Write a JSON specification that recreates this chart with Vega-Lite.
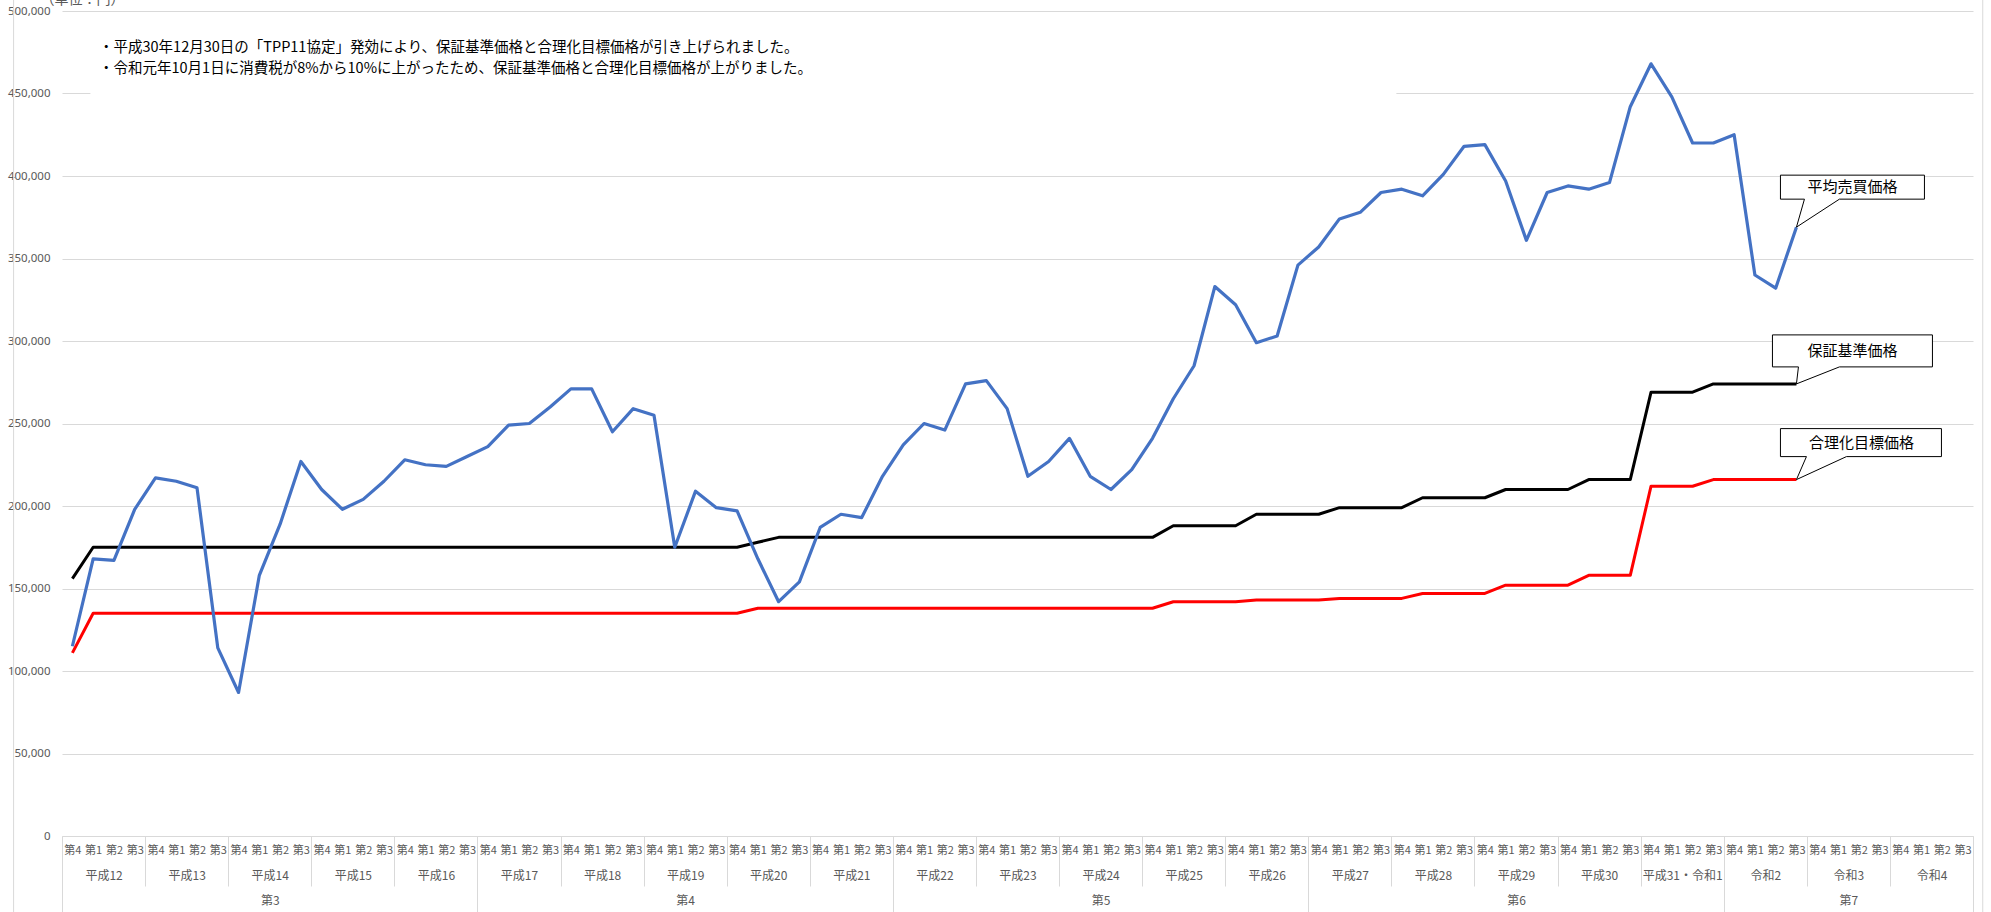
{
  "$schema": "https://vega.github.io/schema/vega-lite/v6.json",
  "width": 1911,
  "height": 825,
  "autosize": {"type": "none"},
  "padding": {"left": 62, "top": 11, "right": 18, "bottom": 76},
  "background": "white",
  "config": {"view": {"stroke": null}, "font": "Noto Sans CJK JP"},
  "datasets": {
    "prices": [
      {"n":0,"年度":"平成12","四半期":"第4","平均売買価格":115000,"保証基準価格":156000,"合理化目標価格":111000},
      {"n":1,"年度":"平成12","四半期":"第1","平均売買価格":168000,"保証基準価格":175000,"合理化目標価格":135000},
      {"n":2,"年度":"平成12","四半期":"第2","平均売買価格":167000,"保証基準価格":175000,"合理化目標価格":135000},
      {"n":3,"年度":"平成12","四半期":"第3","平均売買価格":198000,"保証基準価格":175000,"合理化目標価格":135000},
      {"n":4,"年度":"平成13","四半期":"第4","平均売買価格":217000,"保証基準価格":175000,"合理化目標価格":135000},
      {"n":5,"年度":"平成13","四半期":"第1","平均売買価格":215000,"保証基準価格":175000,"合理化目標価格":135000},
      {"n":6,"年度":"平成13","四半期":"第2","平均売買価格":211000,"保証基準価格":175000,"合理化目標価格":135000},
      {"n":7,"年度":"平成13","四半期":"第3","平均売買価格":114000,"保証基準価格":175000,"合理化目標価格":135000},
      {"n":8,"年度":"平成14","四半期":"第4","平均売買価格":87000,"保証基準価格":175000,"合理化目標価格":135000},
      {"n":9,"年度":"平成14","四半期":"第1","平均売買価格":158000,"保証基準価格":175000,"合理化目標価格":135000},
      {"n":10,"年度":"平成14","四半期":"第2","平均売買価格":189000,"保証基準価格":175000,"合理化目標価格":135000},
      {"n":11,"年度":"平成14","四半期":"第3","平均売買価格":227000,"保証基準価格":175000,"合理化目標価格":135000},
      {"n":12,"年度":"平成15","四半期":"第4","平均売買価格":210000,"保証基準価格":175000,"合理化目標価格":135000},
      {"n":13,"年度":"平成15","四半期":"第1","平均売買価格":198000,"保証基準価格":175000,"合理化目標価格":135000},
      {"n":14,"年度":"平成15","四半期":"第2","平均売買価格":204000,"保証基準価格":175000,"合理化目標価格":135000},
      {"n":15,"年度":"平成15","四半期":"第3","平均売買価格":215000,"保証基準価格":175000,"合理化目標価格":135000},
      {"n":16,"年度":"平成16","四半期":"第4","平均売買価格":228000,"保証基準価格":175000,"合理化目標価格":135000},
      {"n":17,"年度":"平成16","四半期":"第1","平均売買価格":225000,"保証基準価格":175000,"合理化目標価格":135000},
      {"n":18,"年度":"平成16","四半期":"第2","平均売買価格":224000,"保証基準価格":175000,"合理化目標価格":135000},
      {"n":19,"年度":"平成16","四半期":"第3","平均売買価格":230000,"保証基準価格":175000,"合理化目標価格":135000},
      {"n":20,"年度":"平成17","四半期":"第4","平均売買価格":236000,"保証基準価格":175000,"合理化目標価格":135000},
      {"n":21,"年度":"平成17","四半期":"第1","平均売買価格":249000,"保証基準価格":175000,"合理化目標価格":135000},
      {"n":22,"年度":"平成17","四半期":"第2","平均売買価格":250000,"保証基準価格":175000,"合理化目標価格":135000},
      {"n":23,"年度":"平成17","四半期":"第3","平均売買価格":260000,"保証基準価格":175000,"合理化目標価格":135000},
      {"n":24,"年度":"平成18","四半期":"第4","平均売買価格":271000,"保証基準価格":175000,"合理化目標価格":135000},
      {"n":25,"年度":"平成18","四半期":"第1","平均売買価格":271000,"保証基準価格":175000,"合理化目標価格":135000},
      {"n":26,"年度":"平成18","四半期":"第2","平均売買価格":245000,"保証基準価格":175000,"合理化目標価格":135000},
      {"n":27,"年度":"平成18","四半期":"第3","平均売買価格":259000,"保証基準価格":175000,"合理化目標価格":135000},
      {"n":28,"年度":"平成19","四半期":"第4","平均売買価格":255000,"保証基準価格":175000,"合理化目標価格":135000},
      {"n":29,"年度":"平成19","四半期":"第1","平均売買価格":175000,"保証基準価格":175000,"合理化目標価格":135000},
      {"n":30,"年度":"平成19","四半期":"第2","平均売買価格":209000,"保証基準価格":175000,"合理化目標価格":135000},
      {"n":31,"年度":"平成19","四半期":"第3","平均売買価格":199000,"保証基準価格":175000,"合理化目標価格":135000},
      {"n":32,"年度":"平成20","四半期":"第4","平均売買価格":197000,"保証基準価格":175000,"合理化目標価格":135000},
      {"n":33,"年度":"平成20","四半期":"第1","平均売買価格":168000,"保証基準価格":178000,"合理化目標価格":138000},
      {"n":34,"年度":"平成20","四半期":"第2","平均売買価格":142000,"保証基準価格":181000,"合理化目標価格":138000},
      {"n":35,"年度":"平成20","四半期":"第3","平均売買価格":154000,"保証基準価格":181000,"合理化目標価格":138000},
      {"n":36,"年度":"平成21","四半期":"第4","平均売買価格":187000,"保証基準価格":181000,"合理化目標価格":138000},
      {"n":37,"年度":"平成21","四半期":"第1","平均売買価格":195000,"保証基準価格":181000,"合理化目標価格":138000},
      {"n":38,"年度":"平成21","四半期":"第2","平均売買価格":193000,"保証基準価格":181000,"合理化目標価格":138000},
      {"n":39,"年度":"平成21","四半期":"第3","平均売買価格":218000,"保証基準価格":181000,"合理化目標価格":138000},
      {"n":40,"年度":"平成22","四半期":"第4","平均売買価格":237000,"保証基準価格":181000,"合理化目標価格":138000},
      {"n":41,"年度":"平成22","四半期":"第1","平均売買価格":250000,"保証基準価格":181000,"合理化目標価格":138000},
      {"n":42,"年度":"平成22","四半期":"第2","平均売買価格":246000,"保証基準価格":181000,"合理化目標価格":138000},
      {"n":43,"年度":"平成22","四半期":"第3","平均売買価格":274000,"保証基準価格":181000,"合理化目標価格":138000},
      {"n":44,"年度":"平成23","四半期":"第4","平均売買価格":276000,"保証基準価格":181000,"合理化目標価格":138000},
      {"n":45,"年度":"平成23","四半期":"第1","平均売買価格":259000,"保証基準価格":181000,"合理化目標価格":138000},
      {"n":46,"年度":"平成23","四半期":"第2","平均売買価格":218000,"保証基準価格":181000,"合理化目標価格":138000},
      {"n":47,"年度":"平成23","四半期":"第3","平均売買価格":227000,"保証基準価格":181000,"合理化目標価格":138000},
      {"n":48,"年度":"平成24","四半期":"第4","平均売買価格":241000,"保証基準価格":181000,"合理化目標価格":138000},
      {"n":49,"年度":"平成24","四半期":"第1","平均売買価格":218000,"保証基準価格":181000,"合理化目標価格":138000},
      {"n":50,"年度":"平成24","四半期":"第2","平均売買価格":210000,"保証基準価格":181000,"合理化目標価格":138000},
      {"n":51,"年度":"平成24","四半期":"第3","平均売買価格":222000,"保証基準価格":181000,"合理化目標価格":138000},
      {"n":52,"年度":"平成25","四半期":"第4","平均売買価格":241000,"保証基準価格":181000,"合理化目標価格":138000},
      {"n":53,"年度":"平成25","四半期":"第1","平均売買価格":265000,"保証基準価格":188000,"合理化目標価格":142000},
      {"n":54,"年度":"平成25","四半期":"第2","平均売買価格":285000,"保証基準価格":188000,"合理化目標価格":142000},
      {"n":55,"年度":"平成25","四半期":"第3","平均売買価格":333000,"保証基準価格":188000,"合理化目標価格":142000},
      {"n":56,"年度":"平成26","四半期":"第4","平均売買価格":322000,"保証基準価格":188000,"合理化目標価格":142000},
      {"n":57,"年度":"平成26","四半期":"第1","平均売買価格":299000,"保証基準価格":195000,"合理化目標価格":143000},
      {"n":58,"年度":"平成26","四半期":"第2","平均売買価格":303000,"保証基準価格":195000,"合理化目標価格":143000},
      {"n":59,"年度":"平成26","四半期":"第3","平均売買価格":346000,"保証基準価格":195000,"合理化目標価格":143000},
      {"n":60,"年度":"平成27","四半期":"第4","平均売買価格":357000,"保証基準価格":195000,"合理化目標価格":143000},
      {"n":61,"年度":"平成27","四半期":"第1","平均売買価格":374000,"保証基準価格":199000,"合理化目標価格":144000},
      {"n":62,"年度":"平成27","四半期":"第2","平均売買価格":378000,"保証基準価格":199000,"合理化目標価格":144000},
      {"n":63,"年度":"平成27","四半期":"第3","平均売買価格":390000,"保証基準価格":199000,"合理化目標価格":144000},
      {"n":64,"年度":"平成28","四半期":"第4","平均売買価格":392000,"保証基準価格":199000,"合理化目標価格":144000},
      {"n":65,"年度":"平成28","四半期":"第1","平均売買価格":388000,"保証基準価格":205000,"合理化目標価格":147000},
      {"n":66,"年度":"平成28","四半期":"第2","平均売買価格":401000,"保証基準価格":205000,"合理化目標価格":147000},
      {"n":67,"年度":"平成28","四半期":"第3","平均売買価格":418000,"保証基準価格":205000,"合理化目標価格":147000},
      {"n":68,"年度":"平成29","四半期":"第4","平均売買価格":419000,"保証基準価格":205000,"合理化目標価格":147000},
      {"n":69,"年度":"平成29","四半期":"第1","平均売買価格":397000,"保証基準価格":210000,"合理化目標価格":152000},
      {"n":70,"年度":"平成29","四半期":"第2","平均売買価格":361000,"保証基準価格":210000,"合理化目標価格":152000},
      {"n":71,"年度":"平成29","四半期":"第3","平均売買価格":390000,"保証基準価格":210000,"合理化目標価格":152000},
      {"n":72,"年度":"平成30","四半期":"第4","平均売買価格":394000,"保証基準価格":210000,"合理化目標価格":152000},
      {"n":73,"年度":"平成30","四半期":"第1","平均売買価格":392000,"保証基準価格":216000,"合理化目標価格":158000},
      {"n":74,"年度":"平成30","四半期":"第2","平均売買価格":396000,"保証基準価格":216000,"合理化目標価格":158000},
      {"n":75,"年度":"平成30","四半期":"第3","平均売買価格":442000,"保証基準価格":216000,"合理化目標価格":158000},
      {"n":76,"年度":"平成31・令和1","四半期":"第4","平均売買価格":468000,"保証基準価格":269000,"合理化目標価格":212000},
      {"n":77,"年度":"平成31・令和1","四半期":"第1","平均売買価格":448000,"保証基準価格":269000,"合理化目標価格":212000},
      {"n":78,"年度":"平成31・令和1","四半期":"第2","平均売買価格":420000,"保証基準価格":269000,"合理化目標価格":212000},
      {"n":79,"年度":"平成31・令和1","四半期":"第3","平均売買価格":420000,"保証基準価格":274000,"合理化目標価格":216000},
      {"n":80,"年度":"令和2","四半期":"第4","平均売買価格":425000,"保証基準価格":274000,"合理化目標価格":216000},
      {"n":81,"年度":"令和2","四半期":"第1","平均売買価格":340000,"保証基準価格":274000,"合理化目標価格":216000},
      {"n":82,"年度":"令和2","四半期":"第2","平均売買価格":332000,"保証基準価格":274000,"合理化目標価格":216000},
      {"n":83,"年度":"令和2","四半期":"第3","平均売買価格":369000,"保証基準価格":274000,"合理化目標価格":216000}
    ]
  },
  "data": {"name": "prices"},
  "resolve": {"axis": {"x": "independent"}},
  "layer": [
    {
      "mark": {"type": "line", "color": "#FF0000", "strokeWidth": 3, "strokeJoin": "round"},
      "encoding": {
        "x": {
          "field": "n", "type": "quantitative",
          "scale": {"domain": [-0.5, 91.5], "nice": false, "zero": false},
          "axis": {
            "orient": "bottom", "title": null, "grid": false, "ticks": false, "domain": false,
            "values": [0,1,2,3,4,5,6,7,8,9,10,11,12,13,14,15,16,17,18,19,20,21,22,23,24,25,26,27,28,29,30,31,32,33,34,35,36,37,38,39,40,41,42,43,44,45,46,47,48,49,50,51,52,53,54,55,56,57,58,59,60,61,62,63,64,65,66,67,68,69,70,71,72,73,74,75,76,77,78,79,80,81,82,83,84,85,86,87,88,89,90,91],
            "labelExpr": "['第4','第1','第2','第3'][datum.value % 4]",
            "labelOverlap": false, "labelFlush": false, "labelBound": false,
            "labelAngle": 0, "labelPadding": 8, "labelBaseline": "top",
            "labelFontSize": 11, "labelColor": "#595959", "labelFont": "Noto Sans CJK JP"
          }
        },
        "y": {
          "field": "合理化目標価格", "type": "quantitative",
          "scale": {"domain": [0, 500000], "nice": false, "zero": true},
          "axis": {
            "title": "（単位：円）", "titleAngle": 0, "titleAlign": "left", "titleBaseline": "alphabetic",
            "titleX": -22, "titleY": -8, "titleFontSize": 14, "titleFontWeight": "normal", "titleColor": "#595959",
            "values": [0,50000,100000,150000,200000,250000,300000,350000,400000,450000,500000],
            "labelExpr": "format(datum.value, ',')",
            "grid": true, "gridColor": "#d9d9d9", "gridWidth": 1,
            "domain": false, "ticks": false, "labelPadding": 12,
            "labelFontSize": 11.5, "labelColor": "#595959", "labelFont": "Noto Sans"
          }
        }
      }
    },
    {
      "mark": {"type": "line", "color": "#000000", "strokeWidth": 3, "strokeJoin": "round"},
      "encoding": {
        "x": {"field": "n", "type": "quantitative", "axis": null},
        "y": {"field": "保証基準価格", "type": "quantitative"}
      }
    },
    {
      "mark": {"type": "line", "color": "#4472C4", "strokeWidth": 3.2, "strokeJoin": "round"},
      "encoding": {
        "x": {"field": "n", "type": "quantitative", "axis": null},
        "y": {"field": "平均売買価格", "type": "quantitative"}
      }
    },
    {
      "mark": {"type": "rule", "opacity": 0},
      "encoding": {
        "x": {"field": "n", "type": "quantitative",
          "axis": {"orient": "bottom", "title": null, "grid": false, "labels": false, "domain": false, "ticks": true,
            "tickSize": 50, "tickColor": "#d9d9d9", "tickWidth": 1,
            "values": [-0.5,3.5,7.5,11.5,15.5,19.5,23.5,27.5,31.5,35.5,39.5,43.5,47.5,51.5,55.5,59.5,63.5,67.5,71.5,75.5,79.5,83.5,87.5,91.5]}
        }
      }
    },
    {
      "mark": {"type": "rule", "opacity": 0},
      "encoding": {
        "x": {"field": "n", "type": "quantitative",
          "axis": {"orient": "bottom", "title": null, "grid": false, "domain": false, "ticks": false,
            "values": [1.5,5.5,9.5,13.5,17.5,21.5,25.5,29.5,33.5,37.5,41.5,45.5,49.5,53.5,57.5,61.5,65.5,69.5,73.5,77.5,81.5,85.5,89.5],
            "labelExpr": "['平成12','平成13','平成14','平成15','平成16','平成17','平成18','平成19','平成20','平成21','平成22','平成23','平成24','平成25','平成26','平成27','平成28','平成29','平成30','平成31・令和1','令和2','令和3','令和4'][(datum.value - 1.5) / 4]",
            "labelOverlap": false, "labelFlush": false, "labelBound": false,
            "labelAngle": 0, "labelPadding": 34, "labelBaseline": "top",
            "labelFontSize": 12, "labelColor": "#595959", "labelFont": "Noto Sans CJK JP"}
        }
      }
    },
    {
      "mark": {"type": "rule", "opacity": 0},
      "encoding": {
        "x": {"field": "n", "type": "quantitative",
          "axis": {"orient": "bottom", "title": null, "grid": false, "labels": false, "domain": false, "ticks": true,
            "tickSize": 80, "tickColor": "#d9d9d9", "tickWidth": 1,
            "values": [-0.5,19.5,39.5,59.5,79.5,91.5]}
        }
      }
    },
    {
      "mark": {"type": "rule", "opacity": 0},
      "encoding": {
        "x": {"field": "n", "type": "quantitative",
          "axis": {"orient": "bottom", "title": null, "grid": false, "domain": false, "ticks": false,
            "values": [9.5,29.5,49.5,69.5,85.5],
            "labelExpr": "['第3','第4','第5','第6','第7'][floor(datum.value / 20)]",
            "labelOverlap": false, "labelFlush": false, "labelBound": false,
            "labelAngle": 0, "labelPadding": 59, "labelBaseline": "top",
            "labelFontSize": 12, "labelColor": "#595959", "labelFont": "Noto Sans CJK JP"}
        }
      }
    },
    {
      "data": {"values": [{}]},
      "mark": {"type": "rule", "color": "#d9d9d9", "strokeWidth": 1, "clip": false},
      "encoding": {
        "x": {"datum": -2.83, "type": "quantitative", "axis": null},
        "y": {"datum": 520000, "type": "quantitative"},
        "y2": {"datum": -60000}
      }
    },
    {
      "data": {"values": [{}]},
      "mark": {"type": "rule", "color": "#d9d9d9", "strokeWidth": 1, "clip": false},
      "encoding": {
        "x": {"datum": 91.97, "type": "quantitative", "axis": null},
        "y": {"datum": 520000, "type": "quantitative"},
        "y2": {"datum": -60000}
      }
    },
    {
      "data": {"values": [{}]},
      "mark": {"type": "point", "shape": "M18,-63L1324,-63L1324,4L18,4Z", "size": 4, "filled": true, "fill": "white", "strokeWidth": 0, "opacity": 1},
      "encoding": {
        "x": {"datum": 0, "type": "quantitative", "axis": null},
        "y": {"datum": 450000, "type": "quantitative"}
      }
    },
    {
      "data": {"values": [{}]},
      "mark": {
        "type": "text", "align": "left", "baseline": "top", "dx": 37, "dy": 30,
        "fontSize": 14.5, "color": "#000000", "lineHeight": 21, "font": "Noto Sans CJK JP",
        "text": ["・平成30年12月30日の「TPP11協定」発効により、保証基準価格と合理化目標価格が引き上げられました。", "・令和元年10月1日に消費税が8%から10%に上がったため、保証基準価格と合理化目標価格が上がりました。"]
      },
      "encoding": {
        "x": {"datum": -0.5, "type": "quantitative", "axis": null},
        "y": {"datum": 500000, "type": "quantitative"}
      }
    },
    {
      "transform": [
        {"filter": "datum.n == 83"},
        {"fold": ["平均売買価格", "保証基準価格", "合理化目標価格"], "as": ["系列", "値"]}
      ],
      "mark": {"type": "point", "size": 4, "filled": true, "fill": "white", "stroke": "#000000", "strokeWidth": 1, "opacity": 1, "fillOpacity": 1, "strokeOpacity": 1},
      "encoding": {
        "x": {"field": "n", "type": "quantitative", "axis": null},
        "y": {"field": "値", "type": "quantitative"},
        "shape": {
          "field": "系列", "type": "nominal", "legend": null,
          "scale": {
            "domain": ["平均売買価格", "保証基準価格", "合理化目標価格"],
            "range": [
              "M0,0L8,-28L-16,-28L-16,-52L128,-52L128,-28L43,-28Z",
              "M0,0L2,-17L-24,-17L-24,-49L136,-49L136,-17L43,-17Z",
              "M0,0L10,-23L-16,-23L-16,-51L145,-51L145,-23L50,-23Z"
            ]
          }
        }
      }
    },
    {
      "transform": [{"filter": "datum.n == 83"}],
      "mark": {"type": "text", "align": "center", "baseline": "middle", "dx": 56, "dy": -40, "fontSize": 15, "color": "#000000", "font": "Noto Sans CJK JP", "text": "平均売買価格"},
      "encoding": {
        "x": {"field": "n", "type": "quantitative", "axis": null},
        "y": {"field": "平均売買価格", "type": "quantitative"}
      }
    },
    {
      "transform": [{"filter": "datum.n == 83"}],
      "mark": {"type": "text", "align": "center", "baseline": "middle", "dx": 56, "dy": -33, "fontSize": 15, "color": "#000000", "font": "Noto Sans CJK JP", "text": "保証基準価格"},
      "encoding": {
        "x": {"field": "n", "type": "quantitative", "axis": null},
        "y": {"field": "保証基準価格", "type": "quantitative"}
      }
    },
    {
      "transform": [{"filter": "datum.n == 83"}],
      "mark": {"type": "text", "align": "center", "baseline": "middle", "dx": 65, "dy": -37, "fontSize": 15, "color": "#000000", "font": "Noto Sans CJK JP", "text": "合理化目標価格"},
      "encoding": {
        "x": {"field": "n", "type": "quantitative", "axis": null},
        "y": {"field": "合理化目標価格", "type": "quantitative"}
      }
    }
  ]
}
